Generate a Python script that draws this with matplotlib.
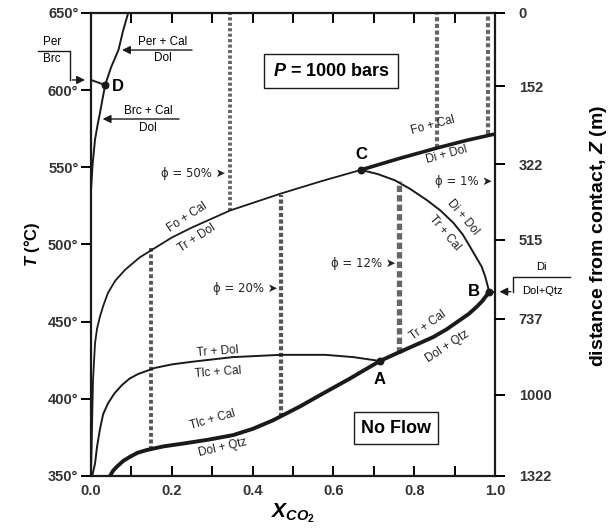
import numpy as np
import matplotlib
matplotlib.use('Agg')
import matplotlib.pyplot as plt

plt.rcParams['font.family'] = ['Liberation Sans', 'DejaVu Sans']
plt.rcParams['mathtext.fontset'] = 'custom'
plt.rcParams['mathtext.it'] = 'Liberation Sans:bold:italic'
plt.rcParams['mathtext.rm'] = 'Liberation Sans:bold'
plt.rcParams['mathtext.bf'] = 'Liberation Sans:bold'

# reaction curves (X_CO2, T in deg C)
fo_x = [0.0, 0.001, 0.0025, 0.005, 0.010, 0.015, 0.022, 0.030, 0.042, 0.060, 0.084,
        0.12, 0.158, 0.20, 0.25, 0.344, 0.47, 0.57, 0.668]
fo_T = [350, 362, 380, 412, 436, 445.5, 453, 460, 468.6, 476.5, 483.5,
        491.5, 497.7, 504.5, 511, 522, 533, 541, 548.3]

di_x = [0.668, 0.76, 0.856, 0.93, 1.0]
di_T = [548.3, 555.5, 562.5, 567.5, 571.6]

cb_x = [0.668, 0.71, 0.752, 0.79, 0.831, 0.865, 0.897, 0.92, 0.938, 0.955, 0.967, 0.976, 0.983, 0.985]
cb_T = [548.3, 545.6, 541.6, 536, 528.8, 522, 514, 506.5, 498.6, 491, 485.6, 479, 472, 469.4]

tr_x = [0.003, 0.01, 0.015, 0.022, 0.030, 0.042, 0.058, 0.077, 0.095, 0.116, 0.158,
        0.20, 0.25, 0.35, 0.47, 0.58, 0.65, 0.715]
tr_T = [350, 358, 369, 380, 390, 397, 403.5, 409, 413, 416, 420,
        422.3, 424, 427, 428.5, 428.5, 427, 424.5]

tlc_x = [0.047, 0.055, 0.064, 0.08, 0.097, 0.115, 0.138, 0.18, 0.228, 0.29, 0.352, 0.40,
         0.45, 0.517, 0.567, 0.64, 0.715, 0.757, 0.80, 0.847, 0.88, 0.913, 0.935, 0.955,
         0.969, 0.979, 0.985]
tlc_T = [350, 353.5, 356, 359.8, 362.5, 365, 366.8, 369.2, 371, 373.5, 376.5, 380.5,
         386, 395, 402.4, 413, 424.5, 429.5, 434.5, 440, 445, 451, 455, 459.7,
         463.5, 467, 469.4]

brc_x = [0.0, 0.004, 0.01, 0.016, 0.022, 0.035, 0.05, 0.068, 0.079, 0.092]
brc_T = [535, 552, 568, 577, 585, 603.3, 615, 626, 638, 650]

per_x = [0.0, 0.035]
per_T = [606.6, 603.3]

dolqtz_x = [0.985, 1.0]
dolqtz_T = [469.4, 469.4]

# invariant points
pt_names = ['A', 'B', 'C', 'D']
pt_x = [0.715, 0.985, 0.668, 0.035]
pt_T = [424.5, 469.4, 548.3, 603.3]

# infiltration paths (vertical dotted lines)
path_x = [0.148, 0.344, 0.47, 0.763, 0.856, 0.983]
path_lo = [367, 522, 388, 430, 562.5, 571.5]
path_hi = [498, 650, 532, 541, 650, 650]

# right axis: distance from contact
z_T = [650, 602.5, 552, 503, 452, 402.5, 350]
z_labels = ['0', '152', '322', '515', '737', '1000', '1322']

fig = plt.figure(figsize=(6.16, 5.32), dpi=100)
ax = fig.add_axes([0.1477, 0.1053, 0.6559, 0.8703])
ax.set_xlim(0, 1)
ax.set_ylim(350, 650)

ink = '#1a1a1a'
ax.plot(fo_x, fo_T, color=ink, lw=1.3)
ax.plot(di_x, di_T, color=ink, lw=2.6)
ax.plot(cb_x, cb_T, color=ink, lw=1.4)
ax.plot(tr_x, tr_T, color=ink, lw=1.4)
ax.plot(tlc_x, tlc_T, color=ink, lw=2.8)
ax.plot(brc_x, brc_T, color=ink, lw=1.4)
ax.plot(per_x, per_T, color=ink, lw=1.4)
ax.plot(dolqtz_x, dolqtz_T, color=ink, lw=1.4)
ax.scatter(pt_x, pt_T, s=22, color=ink, zorder=5)

dot_styles = [(2.8, '#555555', (1.0, 0.7)),
              (2.8, '#666666', (0.8, 0.6)),
              (3.0, '#555555', (1.0, 0.6)),
              (3.8, '#666666', (1.2, 0.6)),
              (3.0, '#666666', (1.0, 0.6)),
              (3.0, '#666666', (1.0, 0.6))]
for x, lo, hi, (lw, c, d) in zip(path_x, path_lo, path_hi, dot_styles):
    ax.plot([x, x], [lo, hi], color=c, lw=lw, ls=(0, d), zorder=1)

# point labels
lab_off = {'A': (0.0, -12), 'B': (-0.037, 0), 'C': (0.0, 10), 'D': (0.032, -1)}
for n, x, t in zip(pt_names, pt_x, pt_T):
    dx, dt = lab_off[n]
    ax.text(x + dx, t + dt, n, fontsize=12, fontweight='bold', ha='center', va='center')

# boxes
ax.text(0.594, 612.4, r'$P$ = 1000 bars', fontsize=13, fontweight='bold', ha='center', va='center',
        bbox=dict(boxstyle='square,pad=0.45', fc='white', ec=ink, lw=1.0))
ax.text(0.755, 381, 'No Flow', fontsize=13, fontweight='bold', ha='center', va='center',
        bbox=dict(boxstyle='square,pad=0.4', fc='white', ec=ink, lw=1.0))

# porosity labels
phi_lab = [('ϕ = 50% ➤', 0.334, 546.3), ('ϕ = 20% ➤', 0.462, 471.8),
           ('ϕ = 12% ➤', 0.754, 488.0), ('ϕ = 1% ➤', 0.992, 540.5)]
for s, x, t in phi_lab:
    ax.text(x, t, s, fontsize=8.5, ha='right', va='center', color='#222222',
            family=['DejaVu Sans'])

# assemblage labels along curves
asm = [('Fo + Cal', 0.238, 517.8, 33), ('Tr + Dol', 0.262, 504.0, 33),
       ('Fo + Cal', 0.847, 577.4, 15), ('Di + Dol', 0.881, 558.0, 15),
       ('Di + Dol', 0.921, 517.8, -50), ('Tr + Cal', 0.876, 507.4, -50),
       ('Tr + Dol', 0.314, 430.8, 4), ('Tlc + Cal', 0.314, 417.0, 4),
       ('Tlc + Cal', 0.302, 386.3, 16), ('Dol + Qtz', 0.327, 368.1, 13),
       ('Tr + Cal', 0.834, 447.8, 36), ('Dol + Qtz', 0.881, 433.6, 33)]
for s, x, t, r in asm:
    ax.text(x, t, s, fontsize=8.5, ha='center', va='center', rotation=r,
            rotation_mode='anchor', color='#222222')

# fraction labels with arrows
ax.text(0.178, 631.2, 'Per + Cal', fontsize=8.5, ha='center', va='center')
ax.text(0.178, 620.6, 'Dol', fontsize=8.5, ha='center', va='center')
ax.annotate('', xy=(0.070, 626), xytext=(0.257, 626),
            arrowprops=dict(arrowstyle='-|>', color=ink, lw=1.0, mutation_scale=12))
ax.text(0.141, 586.6, 'Brc + Cal', fontsize=8.5, ha='center', va='center')
ax.text(0.141, 575.5, 'Dol', fontsize=8.5, ha='center', va='center')
ax.annotate('', xy=(0.022, 581.3), xytext=(0.225, 581.3),
            arrowprops=dict(arrowstyle='-|>', color=ink, lw=1.0, mutation_scale=12))

ax.text(-0.097, 631.0, 'Per', fontsize=8.5, ha='center', va='center', clip_on=False)
ax.text(-0.097, 620.0, 'Brc', fontsize=8.5, ha='center', va='center', clip_on=False)
ax.plot([-0.131, -0.052, -0.052], [625.6, 625.6, 606.6], color=ink, lw=1.0, clip_on=False)
ax.annotate('', xy=(-0.008, 606.6), xytext=(-0.053, 606.6), annotation_clip=False,
            arrowprops=dict(arrowstyle='-|>', color=ink, lw=1.0, mutation_scale=12))

ax.text(1.115, 485.6, 'Di', fontsize=8, ha='center', va='center', clip_on=False)
ax.text(1.118, 470.0, 'Dol+Qtz', fontsize=8, ha='center', va='center', clip_on=False)
ax.plot([1.186, 1.045, 1.045], [479.0, 479.0, 469.4], color=ink, lw=1.0, clip_on=False)
ax.annotate('', xy=(1.004, 469.4), xytext=(1.046, 469.4), annotation_clip=False,
            arrowprops=dict(arrowstyle='-|>', color=ink, lw=1.0, mutation_scale=12))

# axes styling
for sp in ax.spines.values():
    sp.set_linewidth(1.6)
    sp.set_color(ink)
ax.set_xticks(np.arange(0, 1.01, 0.1))
ax.set_xticklabels(['0.0', '', '0.2', '', '0.4', '', '0.6', '', '0.8', '', '1.0'])
ax.tick_params(axis='x', direction='in', length=7, width=1.4, top=True, pad=6,
               labelsize=10.5)
ax.set_yticks(np.arange(350, 651, 50))
ax.set_yticklabels([f'{v}°' for v in range(350, 651, 50)])
ax.tick_params(axis='y', direction='out', length=7, width=1.4, labelsize=10.5, pad=2)
for lbl in ax.get_xticklabels() + ax.get_yticklabels():
    lbl.set_fontweight('bold')
    lbl.set_color('#333333')

ax2 = ax.twinx()
ax2.set_ylim(350, 650)
ax2.set_yticks(z_T)
ax2.set_yticklabels(z_labels)
ax2.tick_params(axis='y', direction='out', length=7, width=1.4, labelsize=10.5, pad=10)
for lbl in ax2.get_yticklabels():
    lbl.set_fontweight('bold')
    lbl.set_color('#333333')
for sp in ax2.spines.values():
    sp.set_visible(False)

ax.set_xlabel(r'$X_{CO_2}$', fontsize=15, labelpad=2)
ax.set_ylabel(r'$T$ (°C)', fontsize=12, fontweight='bold', labelpad=4)
fig.text(0.971, 0.556, r'distance from contact, $Z$ (m)', fontsize=14, fontweight='bold',
         rotation=90, ha='center', va='center')

fig.savefig('out.png', dpi=100)
